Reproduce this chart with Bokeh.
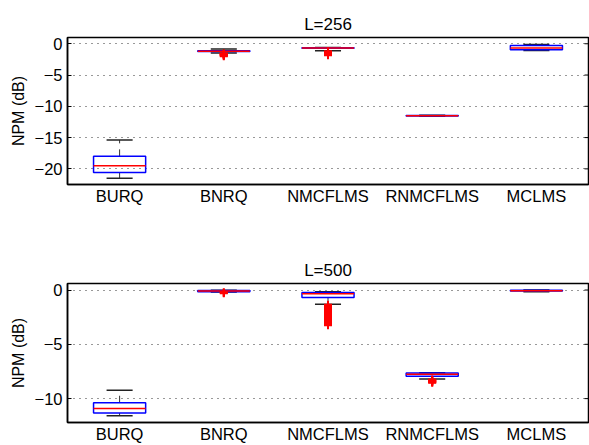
from bokeh.plotting import figure
from bokeh.layouts import column
from bokeh.models import FixedTicker, Range1d
from bokeh.embed import file_html
from bokeh.resources import INLINE

categories = ["BURQ", "BNRQ", "NMCFLMS", "RNMCFLMS", "MCLMS"]
titles = ["L=256", "L=500"]

# L = 256
q1_256 = [-20.6, -1.25, -0.72, -11.55, -0.96]
med_256 = [-19.5, -1.18, -0.68, -11.5, -0.69]
q3_256 = [-18.0, -1.10, -0.64, -11.45, -0.27]
lo_256 = [-21.5, -1.48, -1.10, -11.6, -1.06]
hi_256 = [-15.4, -0.85, -0.60, -11.42, -0.10]
out_cat_256 = ["BNRQ"] * 8 + ["NMCFLMS"] * 8
out_val_256 = [-1.55, -1.6, -1.65, -1.7, -1.75, -1.8, -1.9, -2.0,
               -1.2, -1.3, -1.4, -1.5, -1.55, -1.6, -1.7, -1.85]

# L = 500
q1_500 = [-11.33, -0.15, -0.70, -7.94, -0.10]
med_500 = [-10.9, -0.10, -0.35, -7.76, -0.06]
q3_500 = [-10.38, -0.05, -0.24, -7.65, -0.03]
lo_500 = [-11.57, -0.18, -1.31, -8.20, -0.15]
hi_500 = [-9.24, -0.02, -0.15, -7.62, -0.01]
out_cat_500 = ["BNRQ"] * 3 + ["NMCFLMS"] * 20 + ["RNMCFLMS"] * 7
out_val_500 = [-0.2, -0.25, -0.3,
               -1.35, -1.45, -1.55, -1.65, -1.75, -1.85, -1.95, -2.05, -2.15, -2.25,
               -2.35, -2.45, -2.55, -2.65, -2.75, -2.85, -2.95, -3.05, -3.15, -3.25,
               -8.25, -8.3, -8.35, -8.4, -8.45, -8.5, -8.55]

ticks_256 = [0, -5, -10, -15, -20]
ticklabels_256 = ["0", "\u22125", "\u221210", "\u221215", "\u221220"]
ticks_500 = [0, -5, -10]
ticklabels_500 = ["0", "\u22125", "\u221210"]

FONT = "Liberation Sans"


def make(title, q1, med, q3, lo, hi, oc, ov, ticks, ticklabels, yr, h, bt, bb):
    xr = (0.5, len(categories) + 0.5)
    p = figure(width=589, height=h, output_backend="svg", toolbar_location=None,
               x_range=Range1d(*xr), y_range=Range1d(*yr),
               min_border_left=67, min_border_right=1, min_border_top=bt, min_border_bottom=bb,
               title=title)
    p.title.align = "center"
    p.title.text_font = FONT
    p.title.text_font_size = "17px"
    p.title.text_font_style = "normal"
    p.title.text_color = "black"
    p.title.standoff = 7
    p.outline_line_color = "black"
    p.outline_line_width = 1.5
    p.xgrid.visible = False
    p.ygrid.ticker = FixedTicker(ticks=ticks)
    p.ygrid.grid_line_color = "#333333"
    p.ygrid.grid_line_dash = "1 5"
    p.ygrid.grid_line_width = 1

    xs = [i + 1 for i in range(len(categories))]
    pos = {c: i + 1 for i, c in enumerate(categories)}

    # whiskers (dashed)
    p.segment(x0=xs, y0=q3, x1=xs, y1=hi, line_color="#333333", line_width=1, line_dash="7 6")
    p.segment(x0=xs, y0=q1, x1=xs, y1=lo, line_color="#333333", line_width=1, line_dash="7 6")
    # caps
    p.segment(x0=[x - 0.125 for x in xs], y0=hi, x1=[x + 0.125 for x in xs], y1=hi,
              line_color="#222222", line_width=1.5)
    p.segment(x0=[x - 0.125 for x in xs], y0=lo, x1=[x + 0.125 for x in xs], y1=lo,
              line_color="#222222", line_width=1.5)
    # boxes
    p.quad(left=[x - 0.25 for x in xs], right=[x + 0.25 for x in xs], top=q3, bottom=q1,
           fill_alpha=0, line_color="#0000ff", line_width=1.5)
    # medians
    p.segment(x0=[x - 0.25 for x in xs], y0=med, x1=[x + 0.25 for x in xs], y1=med,
              line_color="#ff0000", line_width=1.5)
    # outliers
    p.scatter(x=[pos[c] for c in oc], y=ov, marker="cross", size=8, line_width=2,
              line_color="#ff0000")
    # inward tick marks on the right edge
    p.scatter(x=[xr[1]] * len(ticks), y=ticks, marker="dash", size=8, line_width=1,
              line_color="black")

    p.xaxis.ticker = FixedTicker(ticks=xs)
    p.xaxis.major_label_overrides = {x: c for x, c in zip(xs, categories)}
    p.xaxis.major_tick_in = 0
    p.xaxis.major_tick_out = 0
    p.xaxis.minor_tick_line_color = None
    p.xaxis.major_label_standoff = 2
    p.yaxis.ticker = FixedTicker(ticks=ticks)
    p.yaxis.major_label_overrides = {t: l for t, l in zip(ticks, ticklabels)}
    p.yaxis.major_tick_in = 4
    p.yaxis.major_tick_out = 0
    p.yaxis.minor_tick_line_color = None
    p.yaxis.major_label_standoff = 5
    p.yaxis.axis_label = "NPM (dB)"
    p.yaxis.axis_label_text_font_style = "normal"
    p.yaxis.axis_label_text_font = FONT
    p.yaxis.axis_label_text_font_size = "16px"
    p.yaxis.axis_label_text_color = "black"
    p.yaxis.axis_label_standoff = 5
    for ax in (p.xaxis, p.yaxis):
        ax.major_label_text_font = FONT
        ax.major_label_text_font_size = "16.5px"
        ax.major_label_text_color = "black"
        ax.axis_line_width = 1.5
        ax.axis_line_color = "black"
        ax.major_tick_line_color = "black"
    return p


p1 = make(titles[0], q1_256, med_256, q3_256, lo_256, hi_256, out_cat_256, out_val_256,
          ticks_256, ticklabels_256, (-22.5, 1.0), 232, 37, 48)
p2 = make(titles[1], q1_500, med_500, q3_500, lo_500, hi_500, out_cat_500, out_val_500,
          ticks_500, ticklabels_500, (-12.2, 0.6), 213, 51, 16)

layout = column(p1, p2, spacing=0)
open("out.html", "w").write(file_html(layout, INLINE))
